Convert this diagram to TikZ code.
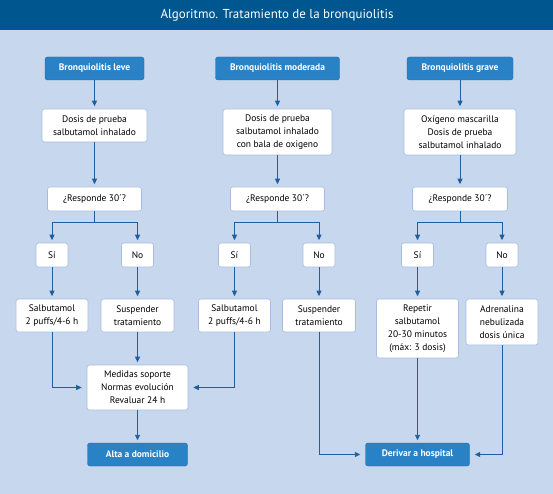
\documentclass[tikz,border=0pt]{standalone}
\usepackage{fontspec}
\setmainfont{PT Sans}
\usetikzlibrary{arrows.meta}
\definecolor{bgblue}{HTML}{C7D7EE}
\definecolor{barblue}{HTML}{00578F}
\definecolor{boxblue}{HTML}{2A82C6}
\definecolor{lineblue}{HTML}{1F5F9F}
\definecolor{edgegrey}{HTML}{A6BCDC}

\begin{document}
\begin{tikzpicture}[x=1bp,y=-1bp,
    hdr/.style={fill=boxblue,draw=boxblue!80!black,line width=0.4bp,rounded corners=2.5bp,
        text=white,font=\fontsize{9.5}{12}\selectfont\bfseries,
        minimum height=23bp,inner sep=0pt,align=center},
    box/.style={fill=white,draw=edgegrey,line width=0.6bp,rounded corners=2.5bp,
        font=\fontsize{9.5}{13}\selectfont,inner sep=0pt,align=center},
    arr/.style={draw=lineblue,line width=0.9bp,shorten >=2.5bp,
        -{Triangle[length=5.5bp,width=5bp]}}]
    \fill[bgblue] (0,0) rectangle (553,494);
    \fill[barblue] (0,0) rectangle (553,30);
    \node[text=white,font=\fontsize{13}{15}\selectfont] (title) at (277,15.5)
        {Algoritmo. Tratamiento de la bronquiolitis};
    % cabeceras
    \node[hdr,minimum width=99bp] (leve) at (94.5,68.5) {Bronquiolitis leve};
    \node[hdr,minimum width=124bp] (moderada) at (277.5,68.5) {Bronquiolitis moderada};
    \node[hdr,minimum width=106bp] (grave) at (460,68.5) {Bronquiolitis grave};
    % dosis de prueba
    \node[box,minimum width=105bp,minimum height=33bp] (dosisL) at (94.5,125.5)
        {Dosis de prueba\\salbutamol inhalado};
    \node[box,minimum width=109bp,minimum height=46bp] (dosisM) at (277.5,132)
        {Dosis de prueba\\salbutamol inhalado\\con bala de oxigeno};
    \node[box,minimum width=112bp,minimum height=46bp] (dosisG) at (460,132)
        {Oxígeno mascarilla\\Dosis de prueba\\salbutamol inhalado};
    % responde
    \node[box,minimum width=94bp,minimum height=24bp] (respL) at (94.5,199) {¿Responde 30´?};
    \node[box,minimum width=94bp,minimum height=24bp] (respM) at (277.5,199) {¿Responde 30´?};
    \node[box,minimum width=95bp,minimum height=24bp] (respG) at (460,199) {¿Responde 30´?};
    \node[box,minimum width=32bp,minimum height=24bp] (siL) at (52,255) {Sí};
    \node[box,minimum width=32bp,minimum height=24bp] (noL) at (137.5,255) {No};
    \node[box,minimum width=32bp,minimum height=24bp] (siM) at (234.5,255) {Sí};
    \node[box,minimum width=32bp,minimum height=24bp] (noM) at (319,255) {No};
    \node[box,minimum width=32bp,minimum height=24bp] (siG) at (417.5,255) {Sí};
    \node[box,minimum width=32bp,minimum height=24bp] (noG) at (502,255) {No};
    % tratamiento
    \node[box,minimum width=72bp,minimum height=33bp] (salbL) at (52,315.5)
        {Salbutamol\\2 puffs/4-6 h};
    \node[box,minimum width=73bp,minimum height=33bp] (suspL) at (137.5,315.5)
        {Suspender\\tratamiento};
    \node[box,minimum width=72bp,minimum height=33bp] (salbM) at (234.5,315.5)
        {Salbutamol\\2 puffs/4-6 h};
    \node[box,minimum width=73bp,minimum height=33bp] (suspM) at (319,315.5)
        {Suspender\\tratamiento};
    \node[box,minimum width=82bp,minimum height=59bp] (repetir) at (417.5,328.5)
        {Repetir\\salbutamol\\20-30 minutos\\(máx: 3 dosis)};
    \node[box,minimum width=72bp,minimum height=46bp] (adren) at (502,322)
        {Adrenalina\\nebulizada\\dosis única};
    \node[box,minimum width=101bp,minimum height=45bp] (medidas) at (137.5,387.5)
        {Medidas soporte\\Normas evolución\\Revaluar 24 h};
    % final
    \node[hdr,minimum width=100bp] (alta) at (137.5,454.5) {Alta a domicilio};
    \node[hdr,minimum width=104bp] (derivar) at (417.5,454.5) {Derivar a hospital};
    % flechas
    \draw[arr] (leve) -- (dosisL);
    \draw[arr] (moderada) -- (dosisM);
    \draw[arr] (grave) -- (dosisG);
    \draw[arr] (dosisL) -- (respL);
    \draw[arr] (dosisM) -- (respM);
    \draw[arr] (dosisG) -- (respG);
    \draw[arr] (respL.south) -- ++(0,11) -| (siL.north);
    \draw[arr] (respL.south) -- ++(0,11) -| (noL.north);
    \draw[arr] (respM.south) -- ++(0,11) -| (siM.north);
    \draw[arr] (respM.south) -- ++(0,11) -| (noM.north);
    \draw[arr] (respG.south) -- ++(0,11) -| (siG.north);
    \draw[arr] (respG.south) -- ++(0,11) -| (noG.north);
    \draw[arr] (siL) -- (salbL);
    \draw[arr] (noL) -- (suspL);
    \draw[arr] (siM) -- (salbM);
    \draw[arr] (noM) -- (suspM);
    \draw[arr] (siG) -- (repetir);
    \draw[arr] (noG) -- (adren);
    \draw[arr,shorten >=5bp] (salbL.south) |- (medidas.west);
    \draw[arr] (suspL) -- (medidas);
    \draw[arr,shorten >=5bp] (salbM.south) |- (medidas.east);
    \draw[arr] (medidas) -- (alta);
    \draw[arr,shorten >=5bp] (suspM.south) |- (derivar.west);
    \draw[arr] (repetir) -- (derivar);
    \draw[arr,shorten >=5bp] (adren.south) |- (derivar.east);
\end{tikzpicture}
\end{document}
